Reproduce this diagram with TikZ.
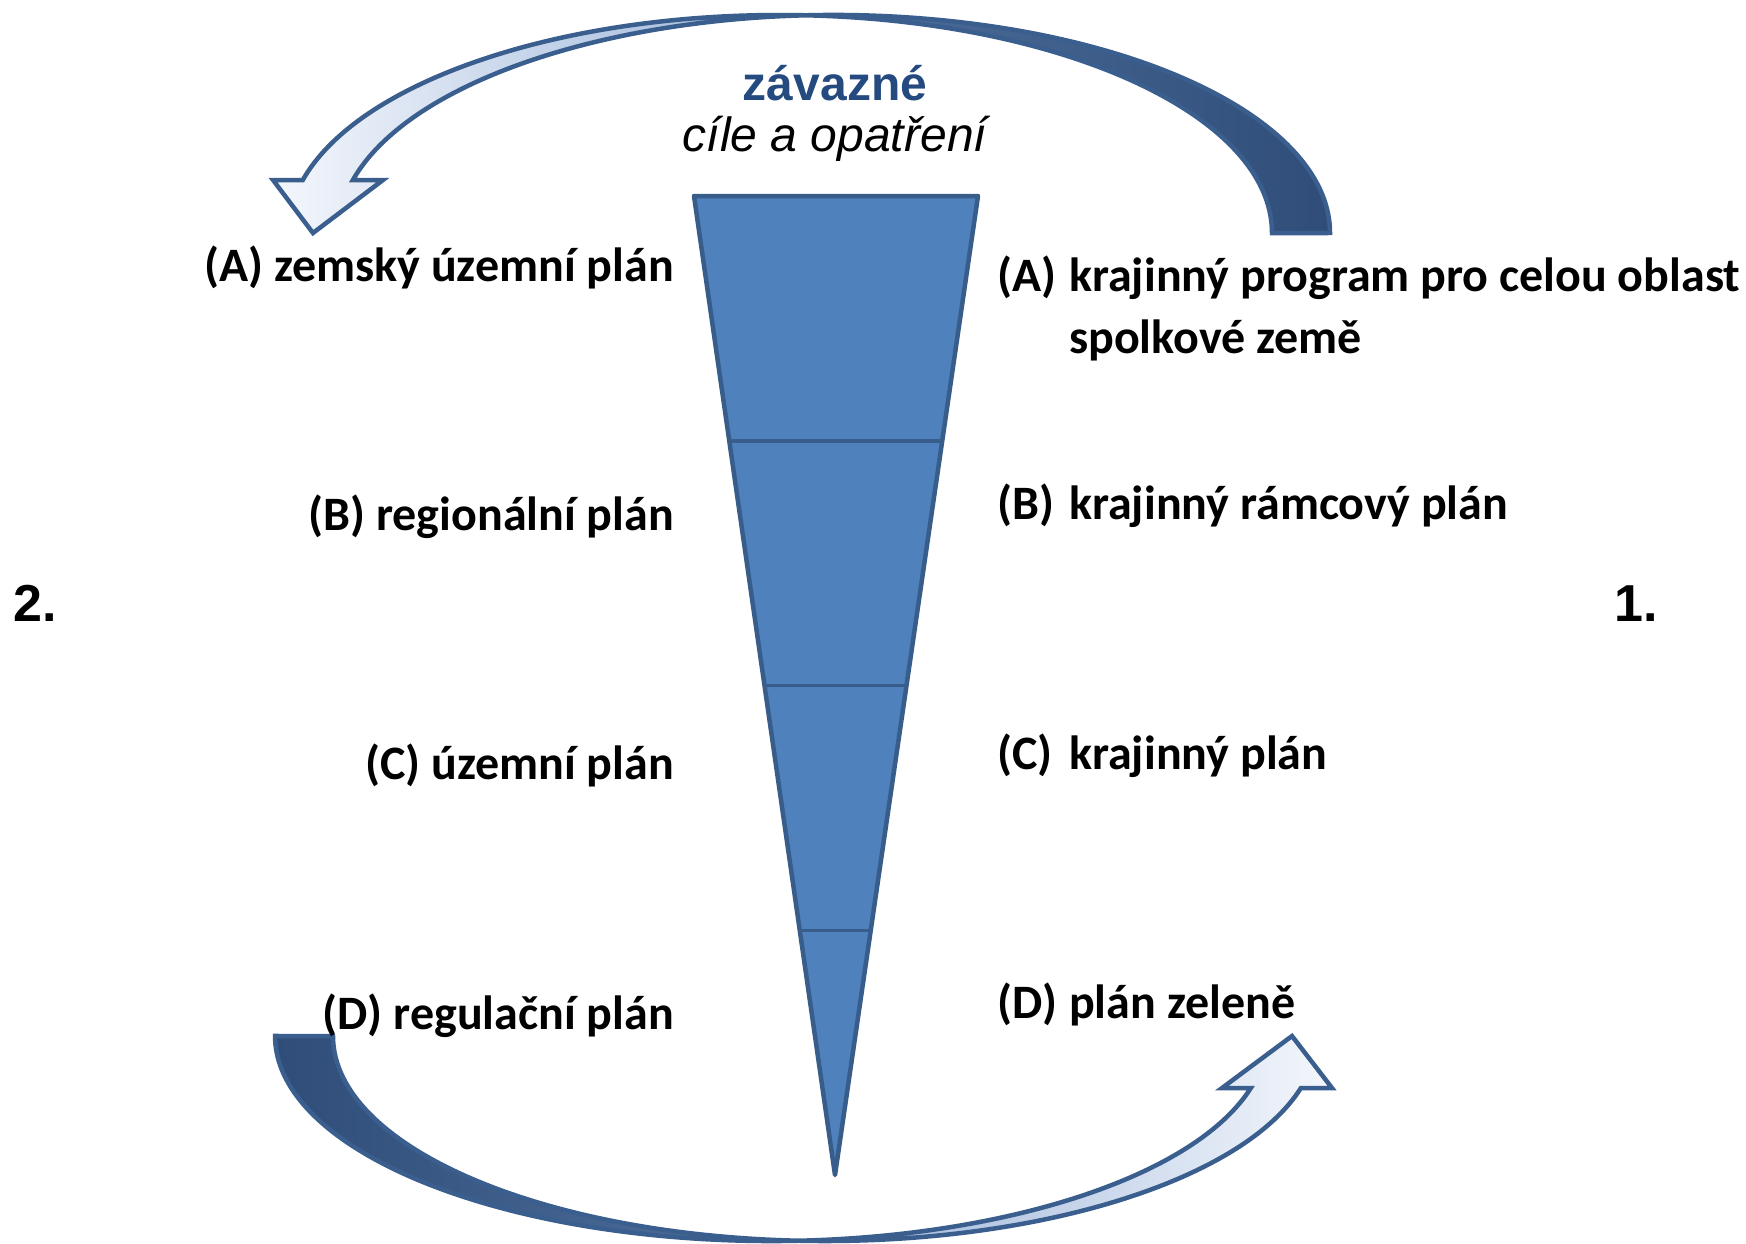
\documentclass[tikz,border=0pt]{standalone}
\usepackage{fontspec}
\usepackage{tikz}
\usetikzlibrary{calc}
\newfontfamily\calibri{Carlito}
\newfontfamily\arial{Liberation Sans}
\definecolor{funnelfill}{HTML}{4F81BD}
\definecolor{funnelline}{HTML}{385D8A}
\definecolor{ribbonline}{HTML}{3A5E8E}
\definecolor{titleblue}{HTML}{244A80}
\definecolor{rlight}{HTML}{F4F7FC}
\definecolor{rpale}{HTML}{BCCDE6}
\definecolor{rmid}{HTML}{A2BADB}
\definecolor{rdeep}{HTML}{4E6E9B}
\definecolor{rdark}{HTML}{2F4D78}
\pgfdeclarehorizontalshading{ribbon}{100bp}{color(0bp)=(rlight); color(25bp)=(rlight);
  color(40bp)=(rpale); color(48bp)=(rmid); color(52bp)=(rdeep); color(75bp)=(rdark); color(100bp)=(rdark)}
\tikzset{plan/.style = {font=\calibri\bfseries\fontsize{48}{61}\selectfont, inner sep=0pt},
         headline/.style = {font=\arial\fontsize{48}{55}\selectfont, inner sep=0pt},
         bignum/.style = {font=\arial\bfseries\fontsize{52}{60}\selectfont, inner sep=0pt},
         ribbonarrow/.style = {draw=ribbonline, line width=4.5, shading=ribbon, line join=miter}}

\begin{document}
\begin{tikzpicture}[x=1pt, y=-1pt]
    \useasboundingbox (0,0) rectangle (1746,1243);

    \coordinate (tl) at (694,196);
    \coordinate (tr) at (978,196);
    \coordinate (tip) at (835,1175);
    \filldraw[fill=funnelfill, draw=funnelline, line width=4.5, line join=round] (tl) -- (tr) -- (tip) -- cycle;
    \foreach \f in {0.25,0.5,0.75}
        \draw[funnelline, line width=3.5] ($(tl)!\f!(tip)$) -- ($(tr)!\f!(tip)$);

    \shadedraw[ribbonarrow] (1272,233) arc[start angle=0, end angle=-165.93, x radius=492, y radius=218]
        -- (273,180) -- (313,233) -- (383,180) -- (352.9,180)
        arc[start angle=-165.93, end angle=0, x radius=496, y radius=218] -- cycle;
    \shadedraw[ribbonarrow, shading angle=180] (333,1036) arc[start angle=180, end angle=14.7, x radius=492, y radius=205]
        -- (1332,1088) -- (1292,1036) -- (1222,1088) -- (1250.8,1088)
        arc[start angle=14.7, end angle=180, x radius=496, y radius=205] -- cycle;

    \node[headline, text=titleblue, anchor=base] (binding) at (835,100) {\bfseries závazné};
    \node[headline, anchor=base] (goals) at (835,151) {\itshape cíle a opatření};

    \node[plan, anchor=base east] (statePlan) at (674,281) {(A) zemský územní plán};
    \node[plan, anchor=base east] (regionPlan) at (674,530) {(B) regionální plán};
    \node[plan, anchor=base east] (landPlan) at (674,779) {(C) územní plán};
    \node[plan, anchor=base east] (regPlan) at (674,1029) {(D) regulační plán};

    \node[plan, anchor=base west] (tagA) at (997,291) {(A)};
    \node[plan, anchor=base west] (progA) at (1069,291) {krajinný program pro celou oblast};
    \node[plan, anchor=base west] (progAb) at (1069,353) {spolkové země};
    \node[plan, anchor=base west] (tagB) at (997,519) {(B)};
    \node[plan, anchor=base west] (progB) at (1069,519) {krajinný rámcový plán};
    \node[plan, anchor=base west] (tagC) at (997,769) {(C)};
    \node[plan, anchor=base west] (progC) at (1069,769) {krajinný plán};
    \node[plan, anchor=base west] (tagD) at (997,1018) {(D)};
    \node[plan, anchor=base west] (progD) at (1069,1018) {plán zeleně};

    \node[bignum, anchor=base west] (second) at (13,621) {2.};
    \node[bignum, anchor=base west] (first) at (1614,621) {1.};
\end{tikzpicture}
\end{document}
